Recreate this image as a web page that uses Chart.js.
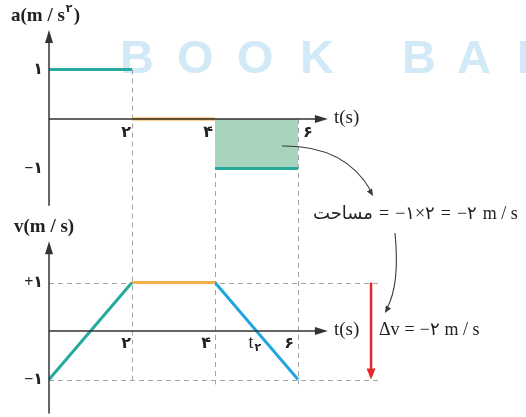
<!DOCTYPE html>
<html>
<head>
<meta charset="utf-8">
<script src="https://cdn.jsdelivr.net/npm/chart.js@4/dist/chart.umd.min.js"></script>
<style>
  html, body { margin: 0; padding: 0; background: #fff; }
  #wrap { width: 526px; height: 417px; }
</style>
</head>
<body>
<div id="wrap"><canvas id="chartMotion" width="526" height="417"></canvas></div>
<script>
// --- data ---
const times = [0, 2, 4, 6];                 // segment boundaries (s)
const accel = [1, 0, -1];                    // a on each interval (m/s^2)
const velocity = [-1, 1, 1, -1];             // v at each boundary (m/s)
const segColorsA = ["#25aa9b", "#f4a234", "#25aa9b"];
const segColorsV = ["#25aa9b", "#f6b04a", "#1fa6e2"];
const shadedSegment = 2;                     // area under a(t) between 4 and 6
const aTicks = [1, -1];
const aTickLabels = ["۱", "−۱"];
const vTicks = [1, -1];
const vTickLabels = ["+۱", "−۱"];
const tTickLabels = ["۲", "۴", "۶"];
const t2Value = 5;                            // where v crosses zero
const dvTime = 7.76;                          // position of the Δv arrow

const GRAY = "#a3a3a3";
const AXIS = "#333";
const SERIF = "'Liberation Serif', 'DejaVu Serif', 'DejaVu Sans', serif";

// datasets built from the arrays
const datasets = [];
for (let i = 0; i < accel.length; i++) {
  datasets.push({
    data: [{ x: times[i], y: accel[i] }, { x: times[i + 1], y: accel[i] }],
    yAxisID: "yA",
    borderColor: segColorsA[i],
    borderWidth: 3,
    fill: false,
    order: 1,
  });
}
datasets.push({
  data: [
    { x: times[shadedSegment], y: accel[shadedSegment] },
    { x: times[shadedSegment + 1], y: accel[shadedSegment] },
  ],
  yAxisID: "yA",
  borderWidth: 0,
  borderColor: "rgba(0,0,0,0)",
  backgroundColor: "#a8d3bc",
  fill: "origin",
  order: 5,
});
for (let i = 0; i < velocity.length - 1; i++) {
  datasets.push({
    data: [{ x: times[i], y: velocity[i] }, { x: times[i + 1], y: velocity[i + 1] }],
    yAxisID: "yV",
    borderColor: segColorsV[i],
    borderWidth: 3,
    fill: false,
    order: 1,
  });
}

function arrowHead(ctx, x, y, ang, len, half) {
  ctx.beginPath();
  ctx.moveTo(x, y);
  ctx.lineTo(x - len * Math.cos(ang) + half * Math.sin(ang), y - len * Math.sin(ang) - half * Math.cos(ang));
  ctx.lineTo(x - len * Math.cos(ang) - half * Math.sin(ang), y - len * Math.sin(ang) + half * Math.cos(ang));
  ctx.closePath();
  ctx.fill();
}

// draw pieces left to right with a fixed gap
function textRow(ctx, parts, x, y, gap) {
  parts.forEach(p => {
    ctx.fillText(p, x, y);
    x += ctx.measureText(p).width + gap;
  });
}

// background: watermark + dashed guides
const guides = {
  id: "guides",
  beforeDatasetsDraw(chart) {
    const { ctx, scales } = chart;
    const x = scales.x, yA = scales.yA, yV = scales.yV;
    ctx.save();
    // watermark
    ctx.fillStyle = "#d2e9f8";
    ctx.font = "bold 47px 'Liberation Sans', Arial, sans-serif";
    ctx.textBaseline = "alphabetic";
    const wm = [["B", 120], ["O", 177], ["O", 237], ["K", 300], ["B", 402], ["A", 457], ["N", 517]];
    wm.forEach(([c, px]) => ctx.fillText(c, px, 73));

    ctx.strokeStyle = GRAY;
    ctx.lineWidth = 1;
    ctx.setLineDash([5, 4]);
    const bottom = yV.getPixelForValue(-1.1);
    for (let i = 1; i < times.length; i++) {
      const adj = [accel[i - 1], accel[i] !== undefined ? accel[i] : 0, 0];
      const top = yA.getPixelForValue(Math.max(...adj));
      const px = Math.round(x.getPixelForValue(times[i])) + 0.5;
      ctx.beginPath();
      ctx.moveTo(px, top);
      ctx.lineTo(px, bottom);
      ctx.stroke();
    }
    vTicks.forEach(v => {
      const py = Math.round(yV.getPixelForValue(v)) + 0.5;
      ctx.beginPath();
      ctx.moveTo(x.getPixelForValue(0), py);
      ctx.lineTo(x.getPixelForValue(8), py);
      ctx.stroke();
    });
    ctx.restore();
  },
  afterDatasetsDraw(chart) {
    const { ctx, scales } = chart;
    const x = scales.x, yA = scales.yA, yV = scales.yV;
    const x0 = x.getPixelForValue(0);
    const xEnd = x.getPixelForValue(6.72);
    ctx.save();
    ctx.strokeStyle = AXIS;
    ctx.fillStyle = AXIS;
    ctx.lineWidth = 1.5;
    // axes of both plots
    [[yA, -1.75, 1.8], [yV, -1.7, 1.85]].forEach(([ys, lo, hi]) => {
      const y0 = ys.getPixelForValue(0);
      const yTop = ys.getPixelForValue(hi);
      ctx.beginPath();
      ctx.moveTo(x0, ys.getPixelForValue(lo));
      ctx.lineTo(x0, yTop + 8);
      ctx.moveTo(x0, y0);
      ctx.lineTo(xEnd - 8, y0);
      ctx.stroke();
      arrowHead(ctx, x0, yTop, -Math.PI / 2, 13, 4);
      arrowHead(ctx, xEnd, y0, 0, 13, 4);
    });

    // tick labels
    ctx.fillStyle = "#222";
    ctx.font = "bold 16px " + SERIF;
    ctx.textBaseline = "middle";
    ctx.textAlign = "right";
    aTicks.forEach((v, i) => ctx.fillText(aTickLabels[i], x0 - 6, yA.getPixelForValue(v)));
    vTicks.forEach((v, i) => ctx.fillText(vTickLabels[i], x0 - 6, yV.getPixelForValue(v)));
    const ay = yA.getPixelForValue(0) + 14;
    const vy = yV.getPixelForValue(0) + 13;
    ctx.fillText(tTickLabels[0], x.getPixelForValue(times[1]) - 1, ay);
    ctx.fillText(tTickLabels[1], x.getPixelForValue(times[2]) - 2, ay);
    ctx.textAlign = "left";
    ctx.fillText(tTickLabels[2], x.getPixelForValue(times[3]) + 5, ay);
    ctx.textAlign = "right";
    ctx.fillText(tTickLabels[0], x.getPixelForValue(times[1]) - 1, vy);
    ctx.fillText(tTickLabels[1], x.getPixelForValue(times[2]) - 4, vy);
    ctx.fillText(tTickLabels[2], x.getPixelForValue(times[3]) - 4, vy);
    // t2
    ctx.textAlign = "left";
    const tx = x.getPixelForValue(t2Value) - 8;
    ctx.font = "18px " + SERIF;
    ctx.fillText("t", tx, vy - 1);
    ctx.font = "bold 11px " + SERIF;
    ctx.fillText("۲", tx + 6, vy + 4);

    // axis titles
    ctx.font = "bold 19px " + SERIF;
    ctx.fillText("a(m / s", 11, 16);
    let w = ctx.measureText("a(m / s").width;
    ctx.font = "bold 11px " + SERIF;
    ctx.fillText("۲", 11 + w + 1, 9);
    ctx.font = "bold 19px " + SERIF;
    ctx.fillText(")", 11 + w + 9, 16);
    ctx.fillText("v(m / s)", 14, 227);
    ctx.font = "19px " + SERIF;
    ctx.fillText("t(s)", xEnd + 6, yA.getPixelForValue(0) - 1);
    ctx.fillText("t(s)", xEnd + 6, yV.getPixelForValue(0) - 1);

    // Δv arrow
    const ax = x.getPixelForValue(dvTime);
    const aTop = yV.getPixelForValue(velocity[2]);
    const aBot = yV.getPixelForValue(velocity[3]);
    ctx.strokeStyle = "#e5262a";
    ctx.fillStyle = "#e5262a";
    ctx.lineWidth = 2.5;
    ctx.beginPath();
    ctx.moveTo(ax, aTop);
    ctx.lineTo(ax, aBot - 9);
    ctx.stroke();
    arrowHead(ctx, ax, aBot, Math.PI / 2, 11, 4.5);

    // annotations
    ctx.fillStyle = "#222";
    ctx.font = "18px " + SERIF;
    ctx.textAlign = "left";
    textRow(ctx, ["Δv", "=", "−۲", "m / s"], 379, yV.getPixelForValue(0) - 1, 5);
    textRow(ctx, ["مساحت", "=", "−۱×۲", "=", "−۲", "m / s"], 313, 214, 6);

    // curved pointers
    ctx.strokeStyle = "#3a3a3a";
    ctx.fillStyle = "#3a3a3a";
    ctx.lineWidth = 1.1;
    ctx.beginPath();
    ctx.moveTo(282, 146);
    ctx.quadraticCurveTo(345, 145, 371, 191);
    ctx.stroke();
    arrowHead(ctx, 373, 196, Math.atan2(45, 26), 7, 3);
    ctx.beginPath();
    ctx.moveTo(395, 233);
    ctx.quadraticCurveTo(400, 285, 387, 308);
    ctx.stroke();
    arrowHead(ctx, 385, 313, Math.atan2(23, -13) , 7, 3);
    ctx.restore();
  },
};

new Chart(document.getElementById("chartMotion"), {
  type: "line",
  data: { datasets },
  options: {
    responsive: false,
    animation: false,
    layout: { padding: 0 },
    elements: { point: { radius: 0 }, line: { tension: 0, borderCapStyle: "butt" } },
    plugins: { legend: { display: false }, tooltip: { enabled: false } },
    scales: {
      x: { type: "linear", min: -1.181, max: 11.494, display: false },
      yA: { type: "linear", min: -6.02, max: 2.404, display: false },
      yV: { type: "linear", min: -1.773, max: 6.825, display: false },
    },
  },
  plugins: [guides],
});
</script>
</body>
</html>
